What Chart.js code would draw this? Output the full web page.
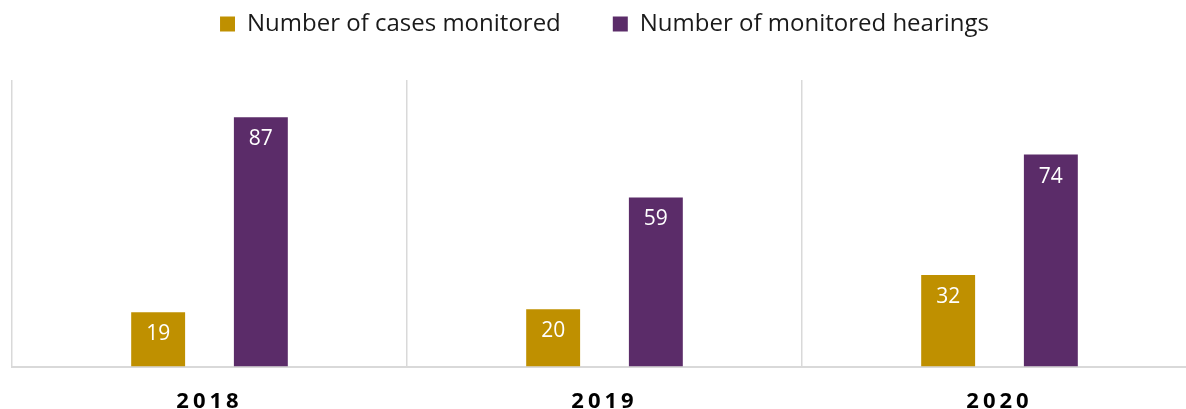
<!DOCTYPE html>
<html>
<head>
<meta charset="utf-8">
<script src="https://cdn.jsdelivr.net/npm/chart.js@4"></script>
<style>
  html, body { margin: 0; padding: 0; background: #fff; overflow: hidden; }
  #wrap { width: 1210px; height: 437px; }
</style>
</head>
<body>
<div id="wrap"><canvas id="myChart"></canvas></div>
<script>
'use strict'
const years = ['2018', '2019', '2020']
const casesMonitored = [19, 20, 32]
const hearingsMonitored = [87, 59, 74]

const gold = '#BF9000'
const purple = '#5B2C69'
const gridGrey = '#D9D9D9'

// white value label near the top of every bar
const barLabels = {
  id: 'barLabels',
  afterDatasetsDraw(chart) {
    const ctx = chart.ctx
    ctx.save()
    ctx.fillStyle = '#fff'
    ctx.font = '21px "Open Sans"'
    ctx.textAlign = 'center'
    ctx.textBaseline = 'middle'
    chart.data.datasets.forEach((ds, i) => {
      chart.getDatasetMeta(i).data.forEach((bar, j) => {
        ctx.fillText(String(ds.data[j]), bar.x, bar.y + 22)
      })
    })
    ctx.restore()
    // spaced out year labels, drawn after the bars (ticks z: 1)
    ctx.letterSpacing = '4px'
  },
  afterDraw(chart) {
    chart.ctx.letterSpacing = '0px'
  },
}

// room between the legend and the plot
const legendGap = {
  id: 'legendGap',
  beforeInit(chart) {
    const fit = chart.legend.fit
    chart.legend.fit = function () {
      fit.bind(chart.legend)()
      this.height += 34
    }
  },
}

const ctx = document.getElementById('myChart').getContext('2d')
const myChart = new Chart(ctx, {
  type: 'bar',
  data: {
    labels: years,
    datasets: [
      {
        label: 'Number of cases monitored',
        data: casesMonitored,
        backgroundColor: gold,
        categoryPercentage: 0.52,
        barPercentage: 0.525,
      },
      {
        label: 'Number of monitored hearings',
        data: hearingsMonitored,
        backgroundColor: purple,
        categoryPercentage: 0.52,
        barPercentage: 0.525,
      },
    ],
  },
  options: {
    responsive: true,
    maintainAspectRatio: false,
    animation: false,
    layout: { padding: { top: -40, left: 12, right: 13, bottom: 0 } },
    plugins: {
      tooltip: { enabled: false },
      legend: {
        position: 'top',
        labels: {
          color: '#1a1a1a',
          font: { family: '"Open Sans"', size: 24 },
          boxWidth: 15,
          boxHeight: 15,
          padding: 52,
        },
      },
    },
    scales: {
      x: {
        grid: {
          display: true,
          offset: true,
          color: gridGrey,
          lineWidth: 1.5,
          drawTicks: false,
        },
        border: { display: true, color: gridGrey, width: 2 },
        ticks: {
          z: 1,
          color: '#000',
          padding: 22,
          font: { family: '"Open Sans"', size: 22, weight: 'bold' },
        },
      },
      y: {
        display: false,
        min: 0,
        max: 100,
        grid: { display: false },
      },
    },
  },
  plugins: [barLabels, legendGap],
})
</script>
</body>
</html>
